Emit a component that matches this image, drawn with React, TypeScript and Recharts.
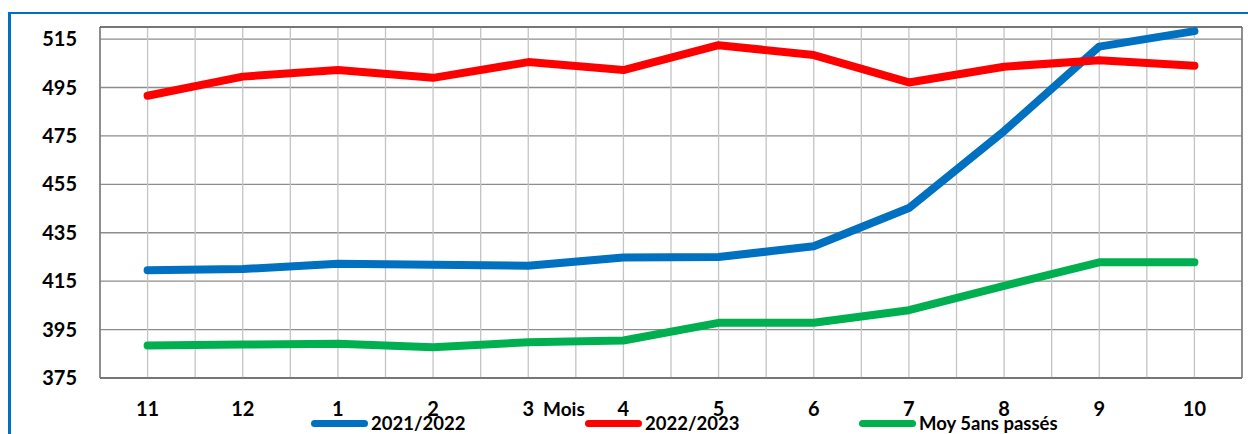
import React from 'react';
import { LineChart, Line, XAxis, YAxis, CartesianGrid, ReferenceLine } from 'recharts';

const months = ['11', '12', '1', '2', '3', '4', '5', '6', '7', '8', '9', '10'];
const serie2122 = [419.5, 420.0, 422.2, 421.8, 421.4, 424.8, 425.0, 429.4, 445.2, 477.0, 511.9, 518.3];
const serie2223 = [491.6, 499.5, 502.2, 499.0, 505.5, 502.2, 512.5, 508.4, 497.1, 503.6, 506.3, 504.0];
const moy5ans = [388.4, 388.8, 389.1, 387.7, 389.8, 390.5, 397.8, 397.8, 403.0, 413.1, 422.8, 422.8];
const yTicks = [375, 395, 415, 435, 455, 475, 495, 515];

const series = [
  { key: 's1', name: '2021/2022', color: '#0070C0' },
  { key: 's2', name: '2022/2023', color: '#FF0000' },
  { key: 's3', name: 'Moy 5ans passés', color: '#00B050' },
];

const data = months.map((m, i) => ({
  idx: i,
  month: m,
  s1: serie2122[i],
  s2: serie2223[i],
  s3: moy5ans[i],
}));

// vertical grid at every category and half-way between them
const xIdx = months.map((_, i) => i);
const halfSteps = [-0.5, ...xIdx.flatMap((i) => [i, i + 0.5])];

const font = "Lato, 'Open Sans', sans-serif";

export default function App() {
  return (
    <div style={{ position: 'absolute', left: 0, top: 0, width: 1248, height: 434, overflow: 'hidden', background: '#fff', fontFamily: font }}>
      <div style={{ position: 'absolute', left: 8, top: 12, width: 1400, height: 600, borderLeft: '3px solid #0070C0', borderTop: '2px solid #0070C0' }} />
      <div style={{ position: 'absolute', left: 0, top: 0 }}>
        <LineChart width={1248} height={434} data={data} margin={{ top: 27, right: 6, left: 10, bottom: 26 }}>
          <CartesianGrid vertical={false} stroke="#8c8c8c" strokeWidth={1.3} />
          {halfSteps.map((v) => (
            <ReferenceLine key={v} x={v} stroke="#c4c4c4" strokeWidth={1.3} />
          ))}
          <ReferenceLine x={11.5} stroke="#666" strokeWidth={1.3} />
          <ReferenceLine y={520} stroke="#666" strokeWidth={1.3} />
          <XAxis
            dataKey="idx"
            type="number"
            domain={[-0.5, 11.5]}
            ticks={xIdx}
            tickFormatter={(i: number) => months[i]}
            height={30}
            tickSize={0}
            tickMargin={24}
            axisLine={{ stroke: '#666', strokeWidth: 1.3 }}
            tick={{ fill: '#000', fontSize: 20, fontWeight: 700, fontFamily: font }}
          />
          <YAxis
            domain={[375, 520]}
            ticks={yTicks}
            width={90}
            tickSize={0}
            tickMargin={23}
            allowDataOverflow
            axisLine={{ stroke: '#666', strokeWidth: 1.3 }}
            tick={{ fill: '#000', fontSize: 20, fontWeight: 700, fontFamily: font }}
          />
          {series.map((s) => (
            <Line
              key={s.key}
              type="linear"
              dataKey={s.key}
              name={s.name}
              stroke={s.color}
              strokeWidth={8}
              strokeLinecap="round"
              strokeLinejoin="round"
              dot={false}
              activeDot={false}
              isAnimationActive={false}
            />
          ))}
        </LineChart>
      </div>
      <div style={{ position: 'absolute', left: 543, top: 398, fontSize: 19, fontWeight: 700, lineHeight: '22px' }}>Mois</div>
      <div style={{ position: 'absolute', left: 311, top: 412, display: 'flex' }}>
        {series.map((s) => (
          <div key={s.key} style={{ width: 274, display: 'flex', alignItems: 'center' }}>
            <div style={{ width: 57, height: 7, borderRadius: 4, background: s.color, marginRight: 3 }} />
            <span style={{ fontSize: 18.5, fontWeight: 700, lineHeight: '22px', whiteSpace: 'nowrap' }}>{s.name}</span>
          </div>
        ))}
      </div>
    </div>
  );
}
